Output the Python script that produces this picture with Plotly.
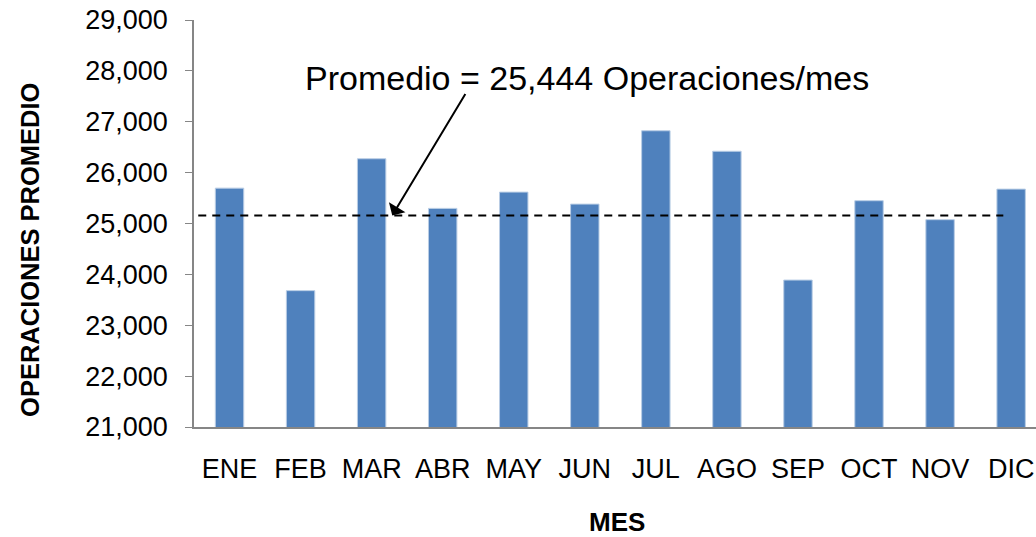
import plotly.graph_objects as go

meses = ["ENE", "FEB", "MAR", "ABR", "MAY", "JUN", "JUL", "AGO", "SEP", "OCT", "NOV", "DIC"]
operaciones = [25695, 23680, 26273, 25297, 25617, 25381, 26823, 26420, 23888, 25448, 25075, 25676]
promedio_etiqueta = 25444
linea_promedio = 25159
y_ticks = [21000, 22000, 23000, 24000, 25000, 26000, 27000, 28000, 29000]
y_tick_labels = ["21,000", "22,000", "23,000", "24,000", "25,000", "26,000", "27,000", "28,000", "29,000"]

FONT = "Liberation Sans, Arial, sans-serif"

fig = go.Figure()
fig.add_trace(go.Bar(
    x=list(range(len(meses))), y=operaciones,
    marker=dict(color="#4F81BD", line=dict(color="#B9CDE5", width=1)),
    hoverinfo="skip",
))

fig.add_shape(type="line", xref="x", yref="y",
              x0=-0.44, x1=10.89, y0=linea_promedio, y1=linea_promedio,
              line=dict(color="black", width=2, dash="8px,6px"))

fig.add_annotation(xref="paper", yref="paper", x=0.467, y=0.857,
                   text=f"Promedio = {promedio_etiqueta:,} Operaciones/mes",
                   showarrow=False, font=dict(family=FONT, size=34, color="black"),
                   xanchor="center", yanchor="middle")

fig.add_annotation(xref="x", yref="y", x=2.29, y=linea_promedio,
                   text="", showarrow=True, ax=74, ay=-123,
                   arrowhead=1, arrowsize=1.6, arrowwidth=2, arrowcolor="black")

fig.add_annotation(xref="paper", yref="paper", x=-0.1948, y=0.435,
                   text="<b>OPERACIONES PROMEDIO</b>", textangle=-90,
                   showarrow=False, font=dict(family=FONT, size=25.5, color="black"),
                   xanchor="center", yanchor="middle")

fig.add_annotation(xref="paper", yref="paper", x=0.502, y=-0.233,
                   text="<b>MES</b>",
                   showarrow=False, font=dict(family=FONT, size=26, color="black"),
                   xanchor="center", yanchor="middle")

fig.update_layout(
    width=1036, height=537,
    margin=dict(l=194, r=0, t=20, b=110, pad=0),
    paper_bgcolor="white", plot_bgcolor="white",
    showlegend=False, bargap=0.6,
    font=dict(family=FONT, color="black"),
)
fig.update_xaxes(
    range=[-0.5, 11.35], tickmode="array",
    tickvals=list(range(len(meses))), ticktext=meses,
    showline=True, linecolor="#868686", linewidth=1.5,
    showgrid=False, zeroline=False, ticks="",
    tickfont=dict(family=FONT, size=27, color="black"),
    ticklabelstandoff=17,
)
fig.update_yaxes(
    range=[21000, 29000], tickmode="array",
    tickvals=y_ticks, ticktext=y_tick_labels,
    showline=True, linecolor="#868686", linewidth=1.5,
    showgrid=False, zeroline=False, ticks="outside", ticklen=7, tickcolor="#868686",
    tickfont=dict(family=FONT, size=27, color="black"),
    ticklabelstandoff=12,
)

fig.write_html("out.html", config={"displayModeBar": False},
               post_script="document.body.style.margin='0';document.body.style.overflow='hidden';")
